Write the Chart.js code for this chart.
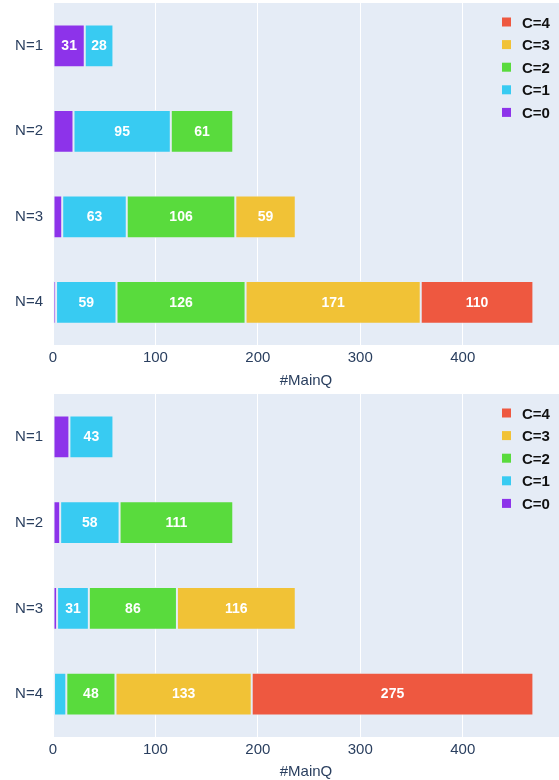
<!DOCTYPE html>
<html>
<head>
<meta charset="utf-8">
<script src="https://cdn.jsdelivr.net/npm/chart.js@4.4.1/dist/chart.umd.min.js"></script>
<style>
html,body{margin:0;padding:0;background:#fff;}
canvas{display:block;}
</style>
</head>
<body>
<canvas id="c1" width="559" height="391"></canvas>
<canvas id="c2" width="559" height="389"></canvas>
<script>
const categories = ['N=1', 'N=2', 'N=3', 'N=4'];
const seriesNames = ['C=0', 'C=1', 'C=2', 'C=3', 'C=4'];
const xTicks = [0, 100, 200, 300, 400];
const axisTitle = '#MainQ';

// Panel 1
const top_C0 = [31, 20, 9, 3];
const top_C1 = [28, 95, 63, 59];
const top_C2 = [null, 61, 106, 126];
const top_C3 = [null, null, 59, 171];
const top_C4 = [null, null, null, 110];

// Panel 2
const bot_C0 = [16, 7, 4, 1];
const bot_C1 = [43, 58, 31, 12];
const bot_C2 = [null, 111, 86, 48];
const bot_C3 = [null, null, 116, 133];
const bot_C4 = [null, null, null, 275];

const colors = ['#8D33EA', '#38CBF2', '#59DB3D', '#F1C236', '#EE5840'];
const FONT = '"Liberation Sans", Arial, sans-serif';

const bgPlugin = {
  id: 'plotBg',
  beforeDraw(chart) {
    const {ctx, chartArea: a} = chart;
    ctx.save();
    ctx.fillStyle = '#E5ECF6';
    ctx.fillRect(a.left, a.top, a.right - a.left, a.bottom - a.top);
    ctx.restore();
  }
};

const labelPlugin = {
  id: 'barLabels',
  afterDatasetsDraw(chart) {
    const ctx = chart.ctx;
    ctx.save();
    ctx.font = 'bold 14px ' + FONT;
    ctx.fillStyle = '#ffffff';
    ctx.textAlign = 'center';
    ctx.textBaseline = 'middle';
    chart.data.datasets.forEach((ds, di) => {
      const meta = chart.getDatasetMeta(di);
      meta.data.forEach((el, i) => {
        const v = ds.data[i];
        if (v == null) return;
        const w = Math.abs(el.x - el.base);
        const t = String(v);
        const tw = ctx.measureText(t).width;
        if (w >= tw + 8) {
          ctx.fillText(t, (el.x + el.base) / 2, el.y + 0.5);
        }
      });
    });
    ctx.restore();
  }
};

const legendPlugin = {
  id: 'customLegend',
  afterDraw(chart) {
    const ctx = chart.ctx;
    ctx.save();
    const n = chart.data.datasets.length;
    for (let k = 0; k < n; k++) {
      const di = n - 1 - k;
      const ds = chart.data.datasets[di];
      const yc = 22 + k * 22.6;
      ctx.fillStyle = ds.backgroundColor;
      ctx.fillRect(502, yc - 4.5, 9, 9);
      ctx.font = 'bold 15px ' + FONT;
      ctx.fillStyle = '#111111';
      ctx.textAlign = 'left';
      ctx.textBaseline = 'middle';
      ctx.fillText(ds.label, 522, yc + 1.5);
    }
    ctx.restore();
  }
};

function makeChart(id, arrays, xHeight, titleBottom) {
  return new Chart(document.getElementById(id), {
    type: 'bar',
    data: {
      labels: categories,
      datasets: arrays.map((arr, i) => ({
        label: seriesNames[i],
        data: arr,
        backgroundColor: colors[i],
        borderColor: 'rgba(229,236,246,0.85)',
        borderWidth: 1,
        borderSkipped: false,
        barPercentage: 0.5,
        categoryPercentage: 1.0
      }))
    },
    options: {
      indexAxis: 'y',
      responsive: false,
      animation: false,
      layout: {padding: {top: 3, right: 0, left: 0, bottom: 0}},
      plugins: {
        legend: {display: false},
        tooltip: {enabled: false}
      },
      scales: {
        x: {
          stacked: true,
          min: 0,
          max: 494,
          border: {display: false},
          grid: {color: '#ffffff', lineWidth: 1, drawTicks: false},
          afterBuildTicks(scale) {
            scale.ticks = xTicks.map(v => ({value: v}));
          },
          ticks: {
            color: '#2a3f5f',
            padding: 4,
            font: {family: FONT, size: 15}
          },
          title: {
            display: true,
            text: axisTitle,
            color: '#2a3f5f',
            font: {family: FONT, size: 15},
            padding: {top: 2, bottom: titleBottom}
          },
          afterFit(scale) {
            scale.height = xHeight;
            scale.paddingLeft = 0;
            scale.paddingRight = 0;
          }
        },
        y: {
          stacked: true,
          border: {display: false},
          grid: {display: false, drawTicks: false},
          ticks: {
            color: '#2a3f5f',
            padding: 10,
            font: {family: FONT, size: 15}
          },
          afterFit(scale) {
            scale.width = 53;
            scale.paddingTop = 0;
            scale.paddingBottom = 0;
          }
        }
      }
    },
    plugins: [bgPlugin, labelPlugin, legendPlugin]
  });
}

makeChart('c1', [top_C0, top_C1, top_C2, top_C3, top_C4], 46, 1);
makeChart('c2', [bot_C0, bot_C1, bot_C2, bot_C3, bot_C4], 43, -1);
</script>
</body>
</html>
